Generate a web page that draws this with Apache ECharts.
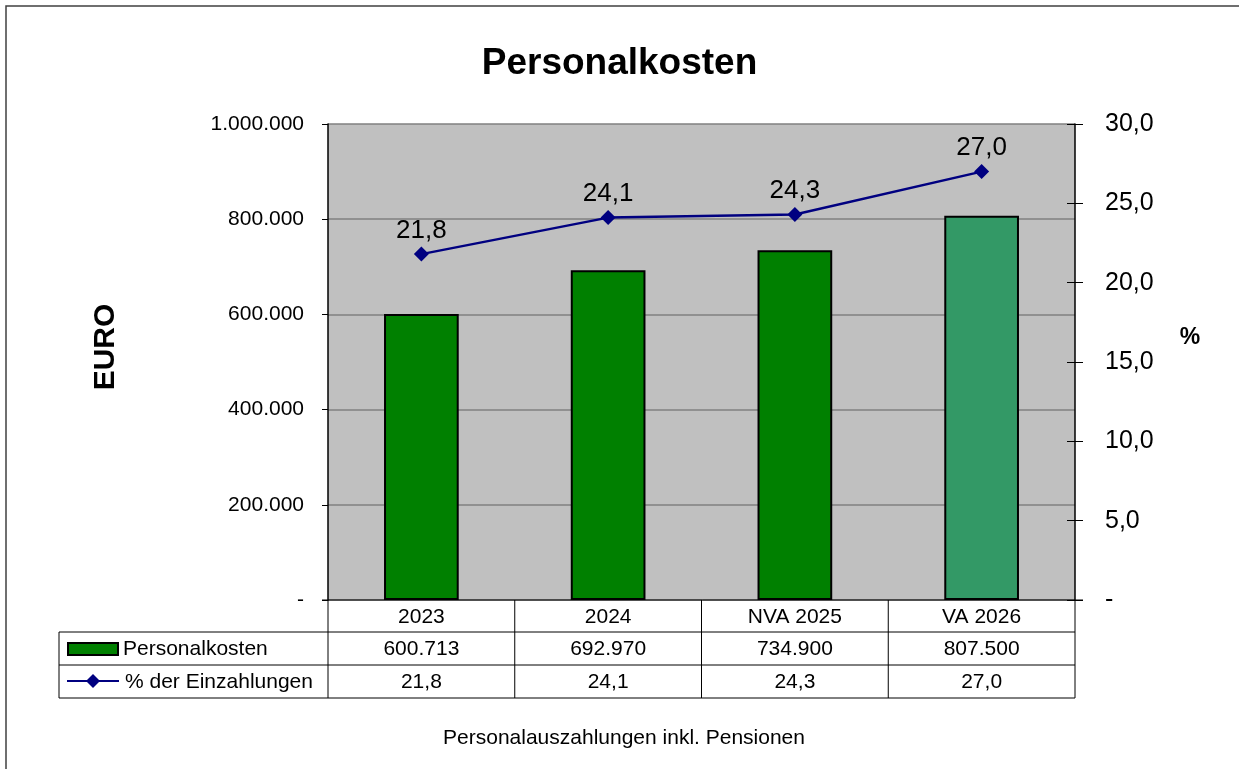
<!DOCTYPE html>
<html>
<head>
<meta charset="utf-8">
<script src="https://cdn.jsdelivr.net/npm/echarts@6/dist/echarts.min.js"></script>
<style>
  html, body { margin: 0; padding: 0; background: #fff; }
  #main { width: 1239px; height: 769px; }
</style>
</head>
<body>
<div id="main"></div>
<script>
var categories = ['2023', '2024', 'NVA 2025', 'VA 2026'];
var kosten = [600713, 692970, 734900, 807500];
var anteil = [21.8, 24.1, 24.3, 27.0];
var seriesNames = ['Personalkosten', '% der Einzahlungen'];

function fmtDe(v) {
  return String(Math.round(v)).replace(/\B(?=(\d{3})+(?!\d))/g, '.');
}
function fmtPct(v) {
  return v.toFixed(1).replace('.', ',');
}

// plot geometry
var L = 328, R = 1075, T = 124, B = 600;
var colW = (R - L) / categories.length;
var rowY = [600, 632, 665, 698];
var font = 'Liberation Sans, Arial, sans-serif';

var graphics = [
  { type: 'rect', shape: { x: 6, y: 6, width: 1260, height: 800 },
    style: { fill: 'none', stroke: '#404040', lineWidth: 1.5 }, z: -10 }
];

function hline(x1, x2, y) {
  graphics.push({ type: 'line', shape: { x1: x1, y1: y, x2: x2, y2: y },
    style: { stroke: '#000', lineWidth: 1 }, z: 10 });
}
function vline(x, y1, y2) {
  graphics.push({ type: 'line', shape: { x1: x, y1: y1, x2: x, y2: y2 },
    style: { stroke: '#000', lineWidth: 1 }, z: 10 });
}
function cellText(txt, x, y, align) {
  graphics.push({ type: 'text', x: x, y: y, z: 10,
    style: { text: txt, fill: '#000', font: '21px ' + font,
      align: align || 'center', verticalAlign: 'middle' } });
}

// data table
hline(L - 6, R + 8, rowY[0]);
hline(59, R, rowY[1]);
hline(59, R, rowY[2]);
hline(59, R, rowY[3]);
vline(59, rowY[1], rowY[3]);
for (var c = 0; c <= categories.length; c++) {
  vline(L + c * colW, rowY[0], rowY[3]);
}
categories.forEach(function (cat, i) {
  var cx = L + colW * (i + 0.5);
  cellText(cat, cx, (rowY[0] + rowY[1]) / 2 + 1);
  cellText(fmtDe(kosten[i]), cx, (rowY[1] + rowY[2]) / 2 + 1);
  cellText(fmtPct(anteil[i]), cx, (rowY[2] + rowY[3]) / 2 + 1);
});
// legend keys inside table
graphics.push({ type: 'rect', shape: { x: 68, y: 643, width: 50, height: 12 },
  style: { fill: '#008000', stroke: '#000', lineWidth: 2 }, z: 10 });
cellText(seriesNames[0], 123, 649, 'left');
graphics.push({ type: 'line', shape: { x1: 67, y1: 681, x2: 119, y2: 681 },
  style: { stroke: '#000080', lineWidth: 2 }, z: 10 });
graphics.push({ type: 'polygon', shape: { points: [[93, 674], [100, 681], [93, 688], [86, 681]] },
  style: { fill: '#000080' }, z: 10 });
cellText(seriesNames[1], 125, 682, 'left');

// titles
graphics.push({ type: 'text', x: 106, y: 347, rotation: Math.PI / 2, z: 10,
  style: { text: 'EURO', font: 'bold 30px ' + font, fill: '#000', align: 'center', verticalAlign: 'middle' } });
graphics.push({ type: 'text', x: 1190, y: 338, z: 10,
  style: { text: '%', font: 'bold 23px ' + font, fill: '#000', align: 'center', verticalAlign: 'middle' } });
graphics.push({ type: 'text', x: 624, y: 738, z: 10,
  style: { text: 'Personalauszahlungen inkl. Pensionen', font: '21px ' + font, fill: '#000', align: 'center', verticalAlign: 'middle' } });

var myChart = echarts.init(document.getElementById('main'));
myChart.setOption({
  animation: false,
  backgroundColor: '#fff',
  title: {
    text: 'Personalkosten', left: 'center', top: 40,
    textStyle: { fontFamily: font, fontSize: 37, fontWeight: 'bold', color: '#000' }
  },
  grid: { left: L, right: 1239 - R, top: T, bottom: 769 - B,
    show: true, backgroundColor: '#c0c0c0', borderWidth: 0 },
  xAxis: {
    type: 'category', data: categories,
    axisLine: { show: false },
    axisTick: { show: false },
    axisLabel: { show: false }
  },
  yAxis: [{
    type: 'value', min: 0, max: 1000000, interval: 200000,
    axisLine: { show: true, lineStyle: { color: '#000', width: 1.5 } },
    axisTick: { show: true, length: 6, lineStyle: { color: '#000' } },
    axisLabel: { margin: 24, fontFamily: font, fontSize: 21, color: '#000',
      formatter: function (v) { return v === 0 ? '-' : fmtDe(v); } },
    splitLine: { show: true, lineStyle: { color: '#808080', width: 1.5 } }
  }, {
    type: 'value', min: 0, max: 30, interval: 5, position: 'right',
    axisLine: { show: true, lineStyle: { color: '#000', width: 1.5 } },
    axisTick: { show: true, length: 8, lineStyle: { color: '#000' } },
    axisLabel: { margin: 30, fontFamily: font, fontSize: 25, color: '#000',
      formatter: function (v) { return v === 0 ? '-' : fmtPct(v); } },
    splitLine: { show: false }
  }, {
    type: 'value', min: 0, max: 30, interval: 5, position: 'right',
    axisLine: { show: false },
    axisTick: { show: true, inside: true, length: 8, lineStyle: { color: '#000' } },
    axisLabel: { show: false },
    splitLine: { show: false }
  }],
  series: [{
    name: seriesNames[0], type: 'bar', yAxisIndex: 0, barWidth: '40%',
    data: kosten.map(function (v, i) {
      return { value: v, itemStyle: { color: i === 3 ? '#339966' : '#008000' } };
    }),
    itemStyle: { borderColor: '#000', borderWidth: 2 }
  }, {
    name: seriesNames[1], type: 'line', yAxisIndex: 1, data: anteil,
    symbol: 'diamond', symbolSize: 15,
    lineStyle: { color: '#000080', width: 2.5 },
    itemStyle: { color: '#000080' },
    label: { show: true, position: 'top', distance: 3, fontFamily: font, fontSize: 26, color: '#000',
      formatter: function (p) { return fmtPct(p.value); } },
    z: 5
  }],
  graphic: graphics
});
</script>
</body>
</html>
